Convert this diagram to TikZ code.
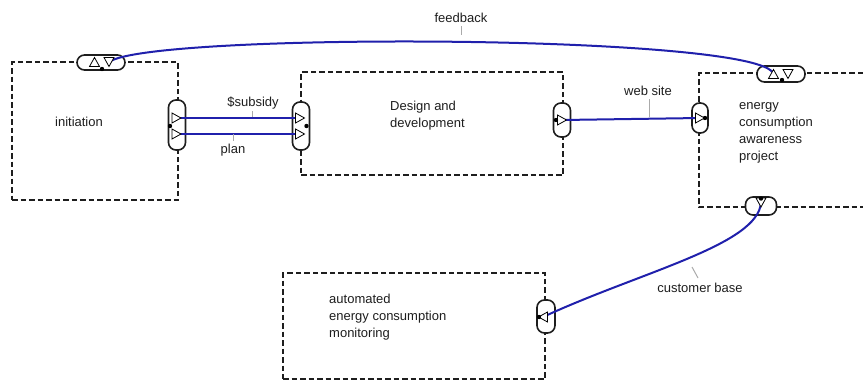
\documentclass[tikz,border=0pt]{standalone}
\usepackage{fontspec}
\setmainfont{Liberation Sans}
\definecolor{flow}{RGB}{32,32,172}
\definecolor{ink}{RGB}{30,30,30}
\definecolor{tick}{RGB}{170,170,170}
\begin{document}
\begin{tikzpicture}[x=1pt,y=-1pt,
  box/.style={draw=ink,line width=1.7pt,dash pattern=on 5.5pt off 3pt,inner sep=0pt},
  port/.style={draw=ink,line width=1.6pt,fill=white,rounded corners=7.5pt,inner sep=0pt},
  flowline/.style={draw=flow,line width=2pt},
  ticker/.style={draw=tick,line width=1pt},
  lbl/.style={font=\fontsize{13}{17}\selectfont,text=ink,inner sep=0pt,align=left},
  triR/.pic={\draw[fill=white,line width=0.8pt] (-4.5,-5)--(4.5,0)--(-4.5,5)--cycle;},
  triL/.pic={\draw[fill=white,line width=0.8pt] (4.5,-5)--(-4.5,0)--(4.5,5)--cycle;},
  triU/.pic={\draw[fill=white,line width=0.8pt] (-5,4.5)--(0,-4.5)--(5,4.5)--cycle;},
  triD/.pic={\draw[fill=white,line width=0.8pt] (-5,-4.5)--(0,4.5)--(5,-4.5)--cycle;},
  dot/.pic={\fill[black] (0,0) circle (2.2pt);}
]
\useasboundingbox (0,0) rectangle (863,381);
\fill[white] (0,0) rectangle (863,381);

% boxes
\node[box,minimum width=166pt,minimum height=138pt] (init) at (95,131) {};
\node[box,minimum width=262pt,minimum height=103pt] (design) at (432,123.5) {};
\node[box,minimum width=262pt,minimum height=106pt] (auto) at (414,326) {};
\coordinate (etl) at (699,73);
\coordinate (ebl) at (699,207);
\draw[box] (863,73) -- (etl) -- (ebl) -- (863,207);

% box texts
\node[lbl,anchor=center] (tinit) at (79,122) {initiation};
\node[lbl,anchor=west] (tdesign) at (390,115.5) {Design and\\development};
\node[lbl,anchor=west] (tenergy) at (739,133) {energy\\consumption\\awareness\\project};
\node[lbl,anchor=west] (tauto) at (329,317) {automated\\energy consumption\\monitoring};

% ports
\node[port,minimum width=48pt,minimum height=15pt] (itop) at (101,62.5) {};
\node[port,minimum width=17pt,minimum height=50pt] (iright) at (177,125) {};
\node[port,minimum width=17pt,minimum height=48pt] (dleft) at (301,126) {};
\node[port,minimum width=17pt,minimum height=34pt] (dright) at (562,120) {};
\node[port,minimum width=16pt,minimum height=30pt] (eleft) at (700,118) {};
\node[port,minimum width=48pt,minimum height=16pt] (etop) at (781,74) {};
\node[port,minimum width=31pt,minimum height=18pt] (ebot) at (761,206) {};
\node[port,minimum width=18pt,minimum height=33pt] (aright) at (546,316.5) {};

% triangle anchors
\coordinate (iu) at (94.5,62);   \coordinate (id) at (109,62);
\coordinate (ir1) at (176.5,118); \coordinate (ir2) at (176.5,134);
\coordinate (dl1) at (300,118);   \coordinate (dl2) at (300,134);
\coordinate (dr) at (562,120);
\coordinate (el) at (700,118);
\coordinate (eu) at (773.5,74);  \coordinate (ed) at (788,74);
\coordinate (eb) at (761,202.5);
\coordinate (al) at (543,317);

% connectors
\draw[flowline] (ir1) -- (dl1);
\draw[flowline] (ir2) -- (dl2);
\draw[flowline] (dr) -- (el);
\draw[flowline] (eu) .. controls (762,34) and (150,32) .. (id);
\draw[flowline] (eb) .. controls (758,245) and (640,272) .. (al);

% triangles and dots
\pic at (iu) {triU}; \pic at (id) {triD}; \pic at (102,69) {dot};
\pic at (ir1) {triR}; \pic at (ir2) {triR}; \pic at (170,126) {dot};
\pic at (dl1) {triR}; \pic at (dl2) {triR}; \pic at (306.5,126) {dot};
\pic at (dr) {triR}; \pic at (556,120) {dot};
\pic at (el) {triR}; \pic at (705,118) {dot};
\pic at (eu) {triU}; \pic at (ed) {triD}; \pic at (782,80) {dot};
\pic at (eb) {triD}; \pic at (761,198.5) {dot};
\pic at (al) {triL}; \pic at (539,317) {dot};

% connector labels
\node[lbl] (lfeed) at (461,18) {feedback};
\draw[ticker] (461,26) -- (461,35);
\node[lbl] (lsub) at (253,103) {\$subsidy};
\draw[ticker] (252,111) -- (252,117);
\node[lbl] (lplan) at (233,150) {plan};
\draw[ticker] (233,134) -- (233,141);
\node[lbl] (lweb) at (648,91) {web site};
\draw[ticker] (649,99) -- (649,117);
\node[lbl] (lcust) at (700,288) {customer base};
\draw[ticker] (692,267) -- (698,278);
\end{tikzpicture}
\end{document}
